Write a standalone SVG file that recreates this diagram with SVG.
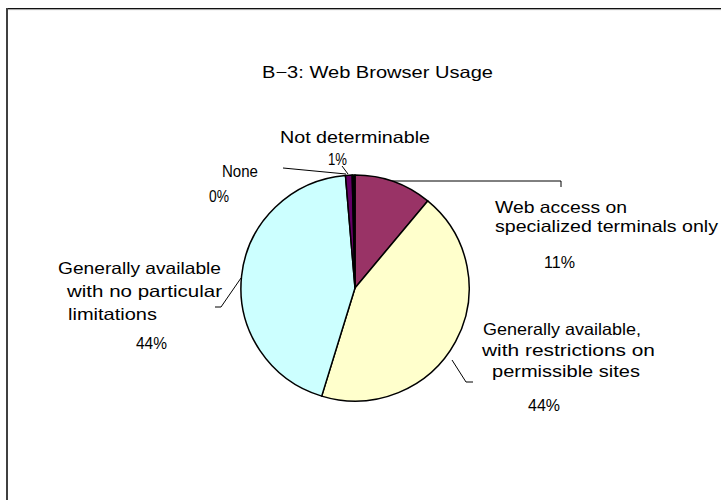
<svg xmlns="http://www.w3.org/2000/svg" width="721" height="500" viewBox="0 0 721 500">
<style>
text{font-family:"Liberation Sans",Arial,"DejaVu Sans",sans-serif;font-size:16.5px;fill:#000}
.slice{stroke:#000;stroke-width:1.5;stroke-linejoin:round}
.lead{fill:none;stroke:#000;stroke-width:1}
</style>
<rect x="0" y="0" width="721" height="500" fill="#fff"/>
<g id="frame">
<line x1="6" y1="8.5" x2="721" y2="8.5" stroke="#111" stroke-width="1.2"/>
<line x1="6" y1="9.6" x2="721" y2="9.6" stroke="#888" stroke-width="0.8"/>
<line x1="7" y1="8" x2="7" y2="500" stroke="#404040" stroke-width="2"/>
</g>
<text id="title" x="262" y="78" textLength="231" lengthAdjust="spacingAndGlyphs">B−3: Web Browser Usage</text>
<g id="pie">
<g id="slice-web"><path class="slice" fill="#993366" d="M355,288 L355,175 A114,113 0 0 1 427.7,200.9 Z"/></g>
<g id="slice-restrict"><path class="slice" fill="#FFFFCC" d="M355,288 L427.7,200.9 A114,113 0 0 1 321.7,396.1 Z"/></g>
<g id="slice-nolimit"><path class="slice" fill="#CCFFFF" d="M355,288 L321.7,396.1 A114,113 0 0 1 345.46,175.4 Z"/></g>
<g id="slice-notdet"><path class="slice" fill="#660066" d="M355,288 L345.46,175.4 A114,113 0 0 1 352.2,175.03 Z"/></g>
<g id="slice-none"><path class="slice" fill="#000000" d="M355,288 L352.2,175.03 A114,113 0 0 1 355,175 Z"/></g>
</g>
<g id="connectors">
<polyline class="lead" points="392,181 561,181 561,187"/>
<polyline class="lead" points="283,168 346,174"/>
<polyline class="lead" points="342,166 348,174"/>
<polyline class="lead" points="215,307 221,307 241,278"/>
<polyline class="lead" points="452,360 466,382 473,382"/>
</g>
<g id="label-notdet">
<text x="280" y="143" textLength="150" lengthAdjust="spacingAndGlyphs">Not determinable</text>
<text x="328" y="165" textLength="19" lengthAdjust="spacingAndGlyphs">1%</text>
</g>
<g id="label-none">
<text x="222" y="177" textLength="36" lengthAdjust="spacingAndGlyphs">None</text>
<text x="209" y="202" textLength="20" lengthAdjust="spacingAndGlyphs">0%</text>
</g>
<g id="label-web">
<text x="495" y="213" textLength="132" lengthAdjust="spacingAndGlyphs">Web access on</text>
<text x="495" y="232" textLength="223" lengthAdjust="spacingAndGlyphs">specialized terminals only</text>
<text x="544" y="268" textLength="31" lengthAdjust="spacingAndGlyphs">11%</text>
</g>
<g id="label-restrict">
<text x="483" y="335" textLength="158" lengthAdjust="spacingAndGlyphs">Generally available,</text>
<text x="482" y="356" textLength="173" lengthAdjust="spacingAndGlyphs">with restrictions on</text>
<text x="492" y="377" textLength="148" lengthAdjust="spacingAndGlyphs">permissible sites</text>
<text x="528" y="411" textLength="32" lengthAdjust="spacingAndGlyphs">44%</text>
</g>
<g id="label-nolimit">
<text x="58" y="274" textLength="163" lengthAdjust="spacingAndGlyphs">Generally available</text>
<text x="67" y="297" textLength="155" lengthAdjust="spacingAndGlyphs">with no particular</text>
<text x="68" y="320" textLength="89" lengthAdjust="spacingAndGlyphs">limitations</text>
<text x="136" y="349" textLength="31" lengthAdjust="spacingAndGlyphs">44%</text>
</g>
</svg>
